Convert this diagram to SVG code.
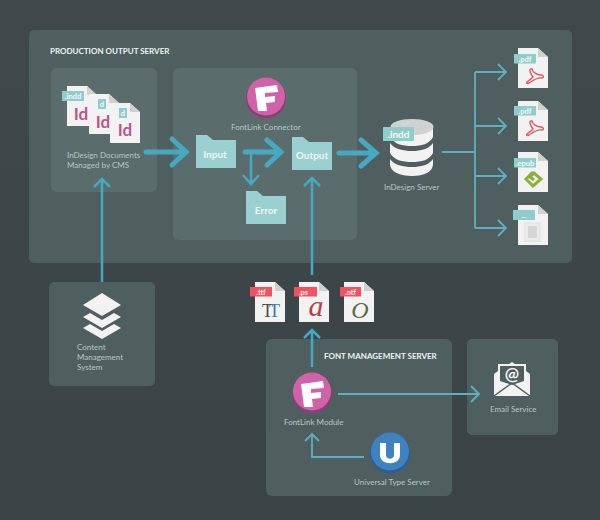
<svg xmlns="http://www.w3.org/2000/svg" width="600" height="520" viewBox="0 0 600 520">
<style>
text{font-family:"Lato","Noto Sans",sans-serif}
.lab{font-size:8px;fill:#b7c8c6}
.ttl{font-size:8px;font-weight:700;fill:#eef3f2}
.fold{fill:#9bd0d0}
.fl{font-size:10px;font-weight:700;fill:#eef5f5;text-anchor:middle}
.pg{fill:#f2f2f2}.crn{fill:#cfd0d0}
.tag{fill:#8fcccb}.tagt{font-size:7.500px;font-weight:700;fill:#f4f8f8;text-anchor:middle}
.rtag{fill:#f0525f}.rtagt{font-size:7.500px;font-weight:700;fill:#fbeaea;text-anchor:middle}
.id{font-size:17px;font-weight:700;fill:#b9568c;text-anchor:middle}
.b{fill:none;stroke:#46a9c4;stroke-width:5;stroke-linecap:round;stroke-linejoin:miter}
.m{fill:none;stroke:#46a9c4;stroke-width:2.500;stroke-linecap:butt}
.t{fill:none;stroke:#5eb0c0;stroke-width:1.800;stroke-linecap:butt}
.pdf{fill:none;stroke:#e05a5f;stroke-width:1.400}
</style>
<defs>
<linearGradient id="bg" x1="0" y1="0" x2="0" y2="1"><stop offset="0" stop-color="#3f494b"/><stop offset="1" stop-color="#3a4446"/></linearGradient>
<linearGradient id="tt" x1="0" y1="0" x2="1" y2="0"><stop offset="0.5" stop-color="#4a4a4a"/><stop offset="0.5" stop-color="#2f7fa8"/></linearGradient>
<path id="page" d="M0 0H20L30 9V40H0Z"/>
<path id="corner" d="M20 0L30 9H20Z"/>
<path id="folder" d="M0 0H11L17 5H40V33H0Z"/>
<path id="pdfg" class="pdf" d="M-2-6C-4-6-3-2 0 2C-3 5-5 6-6 7C-7 8-6 9-4 8C-1 6 4 2 9 3C11 3 11 0 8 0C4 0-1-3-1-6Z"/>
</defs>
<rect width="600" height="520" fill="url(#bg)"/>
<rect x="29" y="30" width="543" height="233" rx="5" fill="#4f5f60"/>
<rect x="51" y="68" width="106" height="124" rx="6" fill="#5a6c6b"/>
<rect x="173" y="68" width="184" height="172" rx="6" fill="#5a6c6b"/>
<rect x="49" y="282" width="106" height="104" rx="5" fill="#4f5f60"/>
<rect x="266" y="339" width="186" height="157" rx="6" fill="#4f5f60"/>
<rect x="467" y="339" width="91" height="96" rx="5" fill="#4f5f60"/>
<text class="ttl" x="50" y="54">PRODUCTION OUTPUT SERVER</text>
<text class="ttl" x="324" y="359">FONT MANAGEMENT SERVER</text>

<g id="connectors">
<path class="b" d="M146 152H186M172 139L186 152L172 165"/>
<path class="b" d="M245 152H281M267 140L281 152L267 165"/>
<path class="b" d="M339 153H376M361 140L376 153L361 166"/>
<path class="m" d="M251 152V184M243 175L251 184L259 175"/>
<path class="m" d="M312 275V178M304 186L312 178L320 186"/>
<path class="m" d="M102 282V179M94 187L102 179L110 187"/>
<path class="m" d="M312 367V330M304 338L312 330L320 338"/>
<path class="t" d="M442 152H475M475 72V228M475 72H506M475 126H506M475 176H506M475 228H506M498 64L506 72L498 80M498 118L506 126L498 134M498 168L506 176L498 184M498 220L506 228L498 236"/>
<path class="t" d="M338 394H479M471 386L479 394L471 402"/>
<path class="t" d="M364 457H312V434M305 441L312 434L319 441"/>
</g>

<g id="indesign-docs">
<use href="#page" class="pg" transform="translate(67,86)"/><use href="#corner" class="crn" transform="translate(67,86)"/>
<text class="id" x="81" y="120">Id</text>
<rect class="tag" x="62" y="91" width="22" height="10"/><text class="tagt" x="73" y="99">.indd</text>
<use href="#page" class="pg" transform="translate(89,94)"/><use href="#corner" class="crn" transform="translate(89,94)"/>
<text class="id" x="103" y="128">Id</text>
<rect class="tag" x="98" y="99" width="8" height="10"/><text class="tagt" x="102" y="107">d</text>
<use href="#page" class="pg" transform="translate(110,103)"/><use href="#corner" class="crn" transform="translate(110,103)"/>
<text class="id" x="125" y="136">Id</text>
<rect class="tag" x="119" y="108" width="8" height="10"/><text class="tagt" x="123" y="116">d</text>
<text class="lab" x="67" y="158">InDesign Documents</text>
<text class="lab" x="67" y="168">Managed by CMS</text>
</g>

<g id="fontlink-connector">
<circle cx="266" cy="98" r="20" fill="#8c3d76"/><circle cx="266" cy="96.500" r="19" fill="#cf62a8"/>
<path d="M255 88L277 85L278 92L265 93L265 97L275 96L275 102L266 103L267 111L258 111Z" fill="#fff"/>
<text class="lab" x="231" y="130">FontLink Connector</text>
</g>
<g id="input"><use href="#folder" class="fold" transform="translate(196,135)"/><text class="fl" x="215" y="158">Input</text></g>
<g id="output"><use href="#folder" class="fold" transform="translate(292,137)"/><text class="fl" x="312" y="159">Output</text></g>
<g id="error"><use href="#folder" class="fold" transform="translate(246,191)"/><text class="fl" x="266" y="214">Error</text></g>

<g id="indesign-server">
<path d="M390 159V164C390 172 400 176 412 176S433 172 433 164V159C429 165 421 167 412 167S394 165 390 159Z" fill="#f2f2f2"/>
<path d="M390 143V153C394 160 402 162 412 162S429 160 433 153V143C429 149 421 151 412 151S394 149 390 143Z" fill="#f2f2f2"/>
<path d="M390 137C394 144 402 146 412 146S429 144 433 137V129H390Z" fill="#f2f2f2"/>
<ellipse cx="412" cy="127" rx="21.500" ry="8" fill="#d0d2d2"/>
<rect class="tag" x="383" y="127" width="31" height="14"/><text x="398.500" y="138" font-size="10" font-weight="700" fill="#f4f8f8" text-anchor="middle">.indd</text>
<text class="lab" x="384" y="190">InDesign Server</text>
</g>

<g id="pdf-1"><use href="#page" class="pg" transform="translate(518,48)"/><use href="#corner" class="crn" transform="translate(518,48)"/>
<rect class="tag" x="514" y="54" width="22" height="9.500"/><text class="tagt" x="525" y="61.500">.pdf</text><use href="#pdfg" transform="translate(533,75)"/></g>
<g id="pdf-2"><use href="#page" class="pg" transform="translate(518,101)"/><use href="#corner" class="crn" transform="translate(518,101)"/>
<rect class="tag" x="514" y="106" width="22" height="9.500"/><text class="tagt" x="525" y="113.500">.pdf</text><use href="#pdfg" transform="translate(533,127)"/></g>
<g id="epub"><use href="#page" class="pg" transform="translate(518,152)"/><use href="#corner" class="crn" transform="translate(518,152)"/>
<rect class="tag" x="514" y="158" width="22" height="9.500"/><text class="tagt" x="525" y="165.500">.epub</text>
<path d="M533 172L526 179L533 186L541 179L534 173L530 177L534 180" fill="none" stroke="#8fae3c" stroke-width="3"/></g>
<g id="generic"><use href="#page" class="pg" transform="translate(518,205)"/><use href="#corner" class="crn" transform="translate(518,205)"/>
<rect class="tag" x="513" y="210" width="22" height="10"/><text class="tagt" x="524" y="218">...</text>
<rect x="525" y="223" width="15" height="18" fill="#ececec" stroke="#dedede"/><rect x="528" y="226" width="9" height="12" fill="#d6d6d6"/></g>

<g id="cms">
<path d="M102 293L121 305L102 316L83 305Z" fill="#f2f2f2"/>
<path d="M90 313L102 320L114 313L121 317L102 328L83 317Z" fill="#f2f2f2"/>
<path d="M90 324L102 331L114 324L121 328L102 339L83 328Z" fill="#f2f2f2"/>
<text class="lab" x="77" y="350">Content</text><text class="lab" x="77" y="360">Management</text><text class="lab" x="77" y="370">System</text>
</g>

<g id="ttf"><use href="#page" class="pg" transform="translate(255,282)"/><use href="#corner" class="crn" transform="translate(255,282)"/>
<rect class="rtag" x="250" y="287" width="22" height="9.500"/><text class="rtagt" x="261" y="294.500">.ttf</text>
<text x="262" y="317" font-size="18" letter-spacing="-4" fill="url(#tt)" style="font-family:'Liberation Serif',serif">TT</text></g>
<g id="ps"><use href="#page" class="pg" transform="translate(299,282)"/><use href="#corner" class="crn" transform="translate(299,282)"/>
<rect class="rtag" x="294" y="287" width="23" height="9.500"/><text class="rtagt" x="303.500" y="294.500">.ps</text>
<text x="316" y="316" font-size="30" fill="#b5404f" text-anchor="middle" style="font-family:'Liberation Serif',serif;font-style:italic">a</text></g>
<g id="otf"><use href="#page" class="pg" transform="translate(344,282)"/><use href="#corner" class="crn" transform="translate(344,282)"/>
<rect class="rtag" x="340" y="287" width="21" height="9.500"/><text class="rtagt" x="350.500" y="294.500">.otf</text>
<text x="360" y="318" font-size="24" fill="#5c6b45" text-anchor="middle" style="font-family:'Liberation Serif',serif;font-style:italic">O</text></g>

<g id="fontlink-module">
<circle cx="312" cy="393" r="20" fill="#8c3d76"/><circle cx="312" cy="391.500" r="19" fill="#cf62a8"/>
<path d="M301 384L323 381L324 388L311 389L311 393L321 392L321 398L312 399L313 407L304 407Z" fill="#fff"/>
<text class="lab" x="284" y="425">FontLink Module</text>
</g>
<g id="universal-type-server">
<circle cx="390" cy="453" r="20" fill="#2c5f96"/><circle cx="390" cy="451.500" r="19" fill="#3f82c2"/>
<path d="M380 443H386V455C386 460 394 460 394 455V443H400V455C400 466 380 466 380 455Z" fill="#fff"/>
<text class="lab" x="354" y="485">Universal Type Server</text>
</g>
<g id="email">
<path d="M494 374V396H530V374L526 371V364H515L512 362L509 364H498V371Z" fill="#f2f2f2"/>
<path d="M500 366H524V381L512 385L500 381Z" fill="#4f5f60"/>
<path d="M494 396L512 383L530 396" fill="none" stroke="#4f5f60" stroke-width="1.500"/>
<text x="512" y="380" font-size="17" font-weight="700" fill="#f2f2f2" text-anchor="middle">@</text>
<text class="lab" x="490" y="412">Email Service</text>
</g>
</svg>
